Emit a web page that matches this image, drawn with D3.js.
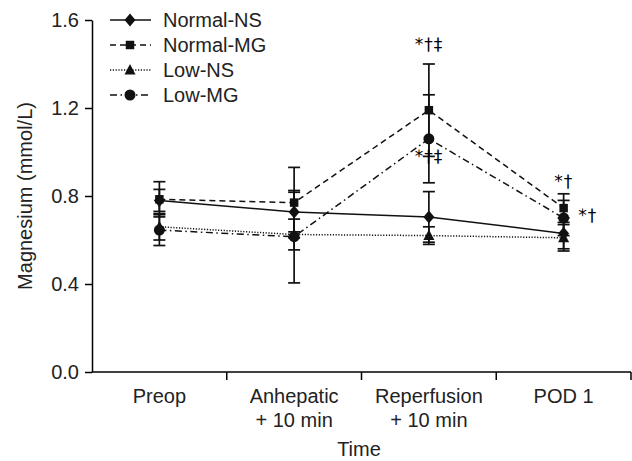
<!DOCTYPE html>
<html>
<head>
<meta charset="utf-8">
<script src="https://cdn.jsdelivr.net/npm/d3@7"></script>
<style>
  html, body { margin: 0; padding: 0; background: #fff; }
  svg { display: block; font-family: "Liberation Sans", Arial, sans-serif; }
  .annot { -webkit-font-smoothing: antialiased; text-rendering: geometricPrecision; }
</style>
</head>
<body>
<div id="chart"></div>
<script>
// Catégories (temps) et séries
const categories = ["Preop", "Anhepatic\n+ 10 min", "Reperfusion\n+ 10 min", "POD 1"];
const seriesNames = ["Normal-NS", "Normal-MG", "Low-NS", "Low-MG"];

// moyennes
const normalNS = [0.78, 0.727, 0.705, 0.63];
const normalMG = [0.785, 0.77, 1.19, 0.745];
const lowNS    = [0.66, 0.625, 0.62, 0.61];
const lowMG    = [0.645, 0.615, 1.06, 0.70];

// écarts (barres d'erreur, ±)
const normalNSerr = [0.05, 0.09, 0.115, 0.07];
const normalMGerr = [0.08, 0.16, 0.21, 0.065];
const lowNSerr    = [0.06, 0.07, 0.04, 0.06];
const lowMGerr    = [0.07, 0.21, 0.20, 0.08];

const yTicks = [0, 0.4, 0.8, 1.2, 1.6];

// annotations de significativité : [catégorie, valeur, texte, décalage x]
const annotations = [
  [2, 1.465, "*†‡", 0],
  [2, 0.955, "*†‡", 0],
  [3, 0.84, "*†", 0],
  [3, 0.685, "*†", 24]
];

const series = [
  { name: seriesNames[0], values: normalNS, err: normalNSerr, dash: null,            marker: "diamond" },
  { name: seriesNames[1], values: normalMG, err: normalMGerr, dash: "6,4",           marker: "square" },
  { name: seriesNames[2], values: lowNS,    err: lowNSerr,    dash: "1.2,1.6",       marker: "triangle" },
  { name: seriesNames[3], values: lowMG,    err: lowMGerr,    dash: "7,3.5,1.5,3.5", marker: "circle" }
];

const W = 632, H = 461;
const margin = { top: 20, right: 1, bottom: 89, left: 92 };

const svg = d3.select("#chart").append("svg")
  .attr("width", W).attr("height", H);

const x = d3.scaleBand().domain(categories).range([margin.left, W - margin.right]);
const y = d3.scaleLinear().domain([0, 1.6]).range([H - margin.bottom, margin.top]);
const cx = c => x(c) + x.bandwidth() / 2;

const symbols = {
  square: d3.symbol().type(d3.symbolSquare).size(72),
  circle: d3.symbol().type(d3.symbolCircle).size(95)
};
function markerPath(m) {
  if (m === "diamond") return "M0,-6.5L5.5,0L0,6.5L-5.5,0Z";
  if (m === "triangle") return "M0,-6L5.5,4.5L-5.5,4.5Z";
  return symbols[m]();
}

// Axe Y
svg.append("g")
  .attr("transform", `translate(${margin.left},0)`)
  .call(d3.axisLeft(y).tickValues(yTicks).tickFormat(d3.format(".1f")).tickSize(7).tickSizeOuter(0).tickPadding(6))
  .call(g => g.select(".domain").attr("stroke-width", 1.5))
  .call(g => g.selectAll(".tick line").attr("stroke-width", 1.5))
  .call(g => g.selectAll(".tick text").attr("font-size", 20).attr("fill", "#222")
    .attr("font-family", "'Liberation Sans', Arial, sans-serif"));

// Axe X : ligne + graduations aux bords des bandes
const xg = svg.append("g").attr("transform", `translate(0,${y(0)})`);
xg.append("line")
  .attr("x1", margin.left).attr("x2", W - margin.right)
  .attr("stroke", "#000").attr("stroke-width", 1.5);
const edges = categories.map(c => x(c) + x.bandwidth()).map(v => Math.min(v, W - 1));
xg.selectAll(".edge").data(edges).join("line")
  .attr("x1", d => d).attr("x2", d => d)
  .attr("y1", 0).attr("y2", 8)
  .attr("stroke", "#000").attr("stroke-width", 1.5);

xg.selectAll(".lab").data(categories).join("text")
  .attr("text-anchor", "middle")
  .attr("font-size", 20)
  .attr("fill", "#222")
  .each(function (c) {
    const t = d3.select(this);
    c.split("\n").forEach((line, i) => {
      t.append("tspan").attr("x", cx(c)).attr("y", 31 + i * 24).text(line);
    });
  });

// Titres des axes
svg.append("text")
  .attr("x", (margin.left + W) / 2 - 3).attr("y", 456)
  .attr("text-anchor", "middle").attr("font-size", 20).attr("fill", "#222")
  .text("Time");

svg.append("text")
  .attr("transform", `translate(32, ${(y(0) + y(1.6)) / 2}) rotate(-90)`)
  .attr("text-anchor", "middle").attr("font-size", 20).attr("fill", "#222")
  .text("Magnesium (mmol/L)");

// Lignes
const line = d3.line().x((d, i) => cx(categories[i])).y(d => y(d));
svg.append("g").selectAll("path").data(series).join("path")
  .attr("d", s => line(s.values))
  .attr("fill", "none").attr("stroke", "#111").attr("stroke-width", 1.5)
  .attr("stroke-dasharray", s => s.dash);

// Barres d'erreur
const eb = svg.append("g").attr("stroke", "#111").attr("stroke-width", 1.7);
series.forEach(s => {
  s.values.forEach((v, i) => {
    const px = cx(categories[i]);
    const lo = y(v - s.err[i]), hi = y(v + s.err[i]);
    eb.append("line").attr("x1", px).attr("x2", px).attr("y1", lo).attr("y2", hi);
    [lo, hi].forEach(yy => eb.append("line")
      .attr("x1", px - 6).attr("x2", px + 6).attr("y1", yy).attr("y2", yy));
  });
});

// Marqueurs
series.forEach(s => {
  svg.append("g").selectAll("path").data(s.values).join("path")
    .attr("transform", (d, i) => `translate(${cx(categories[i])},${y(d)})`)
    .attr("d", markerPath(s.marker))
    .attr("fill", "#111");
});

// Annotations
svg.append("g").selectAll("text").data(annotations).join("text")
  .attr("class", "annot")
  .attr("x", d => cx(categories[d[0]]) + d[3])
  .attr("y", d => y(d[1]))
  .attr("text-anchor", "middle")
  .attr("font-family", "'DejaVu Sans', sans-serif")
  .attr("font-size", 17)
  .attr("letter-spacing", 1)
  .attr("fill", "#000")
  .text(d => d[2]);

// Légende
const leg = svg.append("g");
series.forEach((s, i) => {
  const ly = 20 + i * 25;
  leg.append("line")
    .attr("x1", 110).attr("x2", 151).attr("y1", ly).attr("y2", ly)
    .attr("stroke", "#111").attr("stroke-width", 1.5)
    .attr("stroke-dasharray", s.dash);
  leg.append("path")
    .attr("transform", `translate(130,${ly})`)
    .attr("d", markerPath(s.marker)).attr("fill", "#111");
  leg.append("text")
    .attr("x", 163).attr("y", ly + 7)
    .attr("font-size", 20).attr("fill", "#222")
    .text(s.name);
});
</script>
</body>
</html>
